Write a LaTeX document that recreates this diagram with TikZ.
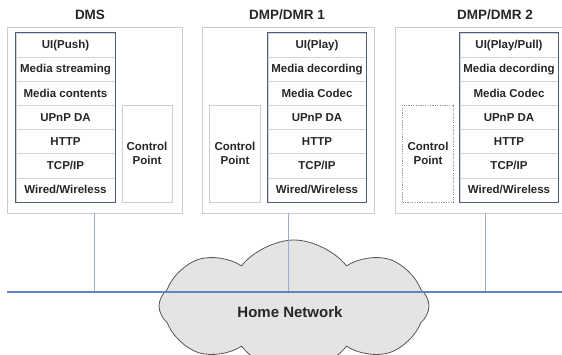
\documentclass[tikz,border=0pt]{standalone}
\usepackage{fontspec}
\setmainfont{Liberation Sans}
\definecolor{framegray}{RGB}{200,204,212}
\definecolor{stackblue}{RGB}{80,94,124}
\definecolor{rowgray}{RGB}{208,211,220}
\definecolor{busblue}{RGB}{96,134,190}
\definecolor{tapblue}{RGB}{150,174,208}
\definecolor{cloudfill}{RGB}{228,228,228}
\definecolor{cloudline}{RGB}{85,85,85}
\colorlet{ink}{black!85}
\usetikzlibrary{positioning, fit, shapes.symbols}

\begin{document}
\begin{tikzpicture}[x=1pt, y=-1pt,
    devbox/.style={draw=framegray, line width=0.9pt, minimum height=186pt, inner sep=0pt},
    layer/.style={draw=rowgray, line width=0.5pt, minimum width=98pt, minimum height=24.14pt,
      inner sep=0pt, text=ink, font=\fontsize{11.5}{13}\selectfont\bfseries},
    stackframe/.style={draw=stackblue, line width=1.3pt, inner sep=0pt},
    cpbox/.style={draw=framegray, line width=0.8pt, minimum width=51pt, minimum height=97pt,
      inner sep=0pt, align=center, text=ink, font=\fontsize{11.5}{13.5}\selectfont\bfseries},
    title/.style={text=ink, font=\fontsize{13.5}{15}\selectfont\bfseries},
    link/.style={draw=tapblue, line width=0.9pt},
    bus/.style={draw=busblue, line width=2.6pt},
  ]
    \useasboundingbox (0,0) rectangle (562,354);

    % network cloud
    \node[cloud, cloud puffs=8, cloud puff arc=105, aspect=2.4, draw=cloudline, fill=cloudfill,
      line width=0.8pt, minimum width=270pt, minimum height=132pt, inner sep=0pt] (cloud) at (294,306) {};
    \node[text=ink, font=\fontsize{15}{17}\selectfont\bfseries] (hn) at (290,312) {Home Network};

    % devices
    \node[devbox, minimum width=175pt] (dms) at (94.5,120) {};
    \node[devbox, minimum width=172pt] (dmra) at (288,120) {};
    \node[devbox, minimum width=171pt] (dmrb) at (480.5,120) {};

    \node[title] (tdms) at (90,15) {DMS};
    \node[title] (tdmra) at (287,15) {DMP/DMR 1};
    \node[title] (tdmrb) at (495,15) {DMP/DMR 2};

    % protocol stacks
    \foreach \lbl [count=\i] in {UI(Push), Media streaming, Media contents, UPnP DA, HTTP, TCP/IP, Wired/Wireless}
      \node[layer, minimum width=99pt] (dms-\i) at (65.5, 20.93+24.14*\i) {\lbl};
    \node[stackframe, fit=(dms-1)(dms-7)] (sdms) {};

    \foreach \lbl [count=\i] in {UI(Play), Media decording, Media Codec, UPnP DA, HTTP, TCP/IP, Wired/Wireless}
      \node[layer] (dmra-\i) at (317, 20.93+24.14*\i) {\lbl};
    \node[stackframe, fit=(dmra-1)(dmra-7)] (sdmra) {};

    \foreach \lbl [count=\i] in {UI(Play/Pull), Media decording, Media Codec, UPnP DA, HTTP, TCP/IP, Wired/Wireless}
      \node[layer] (dmrb-\i) at (509, 20.93+24.14*\i) {\lbl};
    \node[stackframe, fit=(dmrb-1)(dmrb-7)] (sdmrb) {};

    % control points
    \node[cpbox, minimum width=50pt] (cpdms) at (147,153.5) {Control\\Point};
    \node[cpbox] (cpdmra) at (235,153.5) {Control\\Point};
    \node[cpbox, dashed, dash pattern=on 1.2pt off 1.2pt, draw=black!40] (cpdmrb) at (428,153.5) {Control\\Point};

    % links to the home network
    \coordinate (tap1) at (94,292);
    \coordinate (tap2) at (288,292);
    \coordinate (tap3) at (485,292);
    \coordinate (busL) at (7,292);
    \coordinate (busR) at (562,292);

    \draw[link] (dms.south -| tap1) -- (tap1);
    \draw[link] (dmra.south -| tap2) -- (tap2);
    \draw[link] (dmrb.south -| tap3) -- (tap3);
    \draw[bus] (busL) -- (busR);
  \end{tikzpicture}
\end{document}
